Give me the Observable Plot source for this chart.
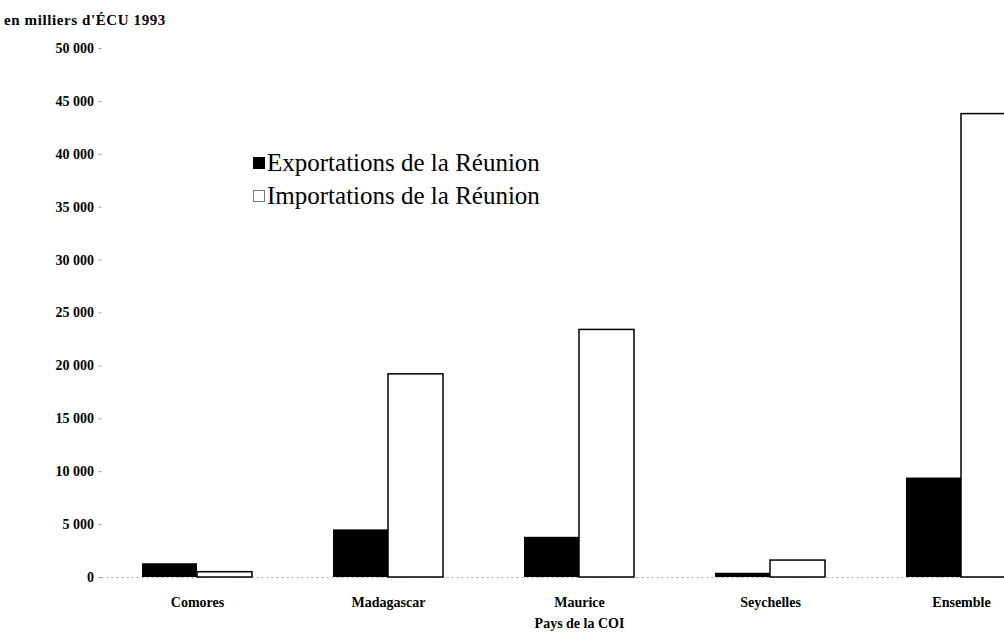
<!DOCTYPE html>
<html><head><meta charset="utf-8">
<script src="https://cdn.jsdelivr.net/npm/d3@7"></script>
<script src="https://cdn.jsdelivr.net/npm/@observablehq/plot@0.6"></script>
<style>
html,body{margin:0;padding:0;background:#fff;overflow:hidden;}
#wrap{position:relative;width:1004px;height:633px;overflow:hidden;}
#ylab{position:absolute;left:4px;top:12px;font:bold 15px "Liberation Serif";letter-spacing:0.6px;white-space:nowrap;}
#legend{position:absolute;left:253px;top:146px;font:25px "Liberation Serif";line-height:33px;white-space:nowrap;}
.sw{display:inline-block;width:12px;height:12px;margin-right:2px;vertical-align:2px;box-sizing:border-box;}
</style></head><body><div id="wrap"></div>
<script>
const categories = ["Comores", "Madagascar", "Maurice", "Seychelles", "Ensemble"];
const exportations = [1300, 4500, 3800, 400, 9400];
const importations = [500, 19200, 23400, 1600, 43800];
const yTicks = [0, 5000, 10000, 15000, 20000, 25000, 30000, 35000, 40000, 45000, 50000];
const seriesNames = ["Exportations de la Réunion", "Importations de la Réunion"];
const yTitle = "en milliers d'ÉCU 1993";
const xTitle = "Pays de la COI";

const rows = categories.map((c, i) => ({pays: c, exp: exportations[i], imp: importations[i]}));
const fmt = d => d3.format(",")(d).replace(/,/g, " ");

const chart = Plot.plot({
  width: 1004,
  height: 633,
  marginTop: 48,
  marginBottom: 56,
  marginLeft: 101.5,
  marginRight: -52.5,
  style: {fontFamily: "Liberation Serif", fontSize: "14px", fontWeight: "bold", background: "white", color: "black", overflow: "hidden"},
  x: {domain: categories, paddingInner: 0.424, paddingOuter: 0.212, align: 0.5},
  y: {domain: [0, 50000]},
  marks: [
    Plot.ruleY([0], {stroke: "#aaa", strokeDasharray: "2,3"}),
    Plot.barY(rows, {x: "pays", y: "exp", fill: "black", insetRight: 55}),
    Plot.barY(rows, {x: "pays", y: "imp", fill: "white", stroke: "black", strokeWidth: 1.5, insetLeft: 55}),
    Plot.axisY({ticks: yTicks, tickFormat: fmt, tickSize: 3, tickPadding: 5, label: null, stroke: "#999"}),
    Plot.axisX({tickSize: 0, tickPadding: 20, label: xTitle, labelAnchor: "center", labelOffset: 50})
  ]
});

const wrap = document.getElementById("wrap");
wrap.appendChild(chart);

const yl = document.createElement("div");
yl.id = "ylab";
yl.textContent = yTitle;
wrap.appendChild(yl);

const lg = document.createElement("div");
lg.id = "legend";
seriesNames.forEach((name, i) => {
  const row = document.createElement("div");
  const sw = document.createElement("span");
  sw.className = "sw";
  sw.style.background = i === 0 ? "black" : "white";
  sw.style.border = i === 0 ? "1px solid black" : "1px solid #777";
  row.appendChild(sw);
  row.appendChild(document.createTextNode(name));
  lg.appendChild(row);
});
wrap.appendChild(lg);
</script>
</body></html>
